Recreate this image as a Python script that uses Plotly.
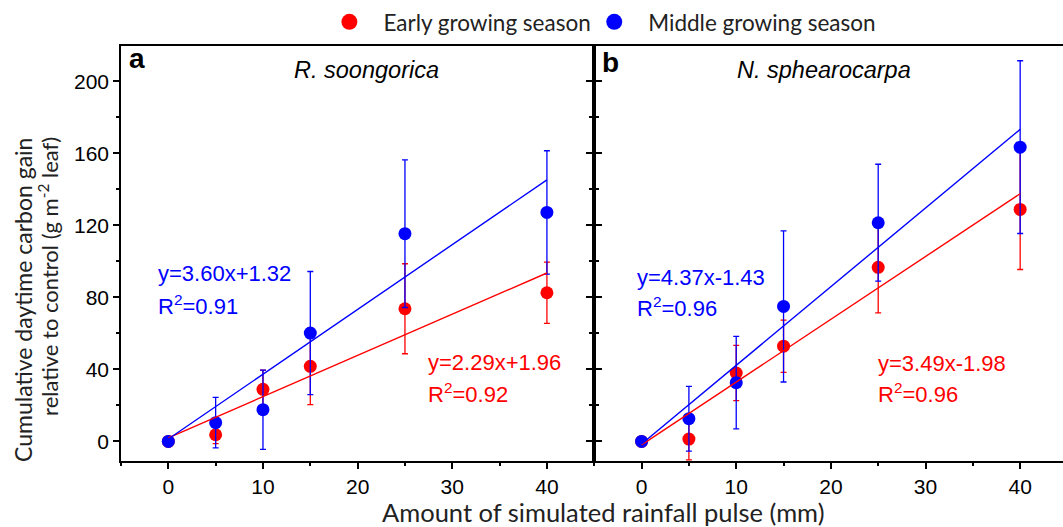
import plotly.graph_objects as go
import numpy as np

# ---------------- data ----------------
rain = [0, 5, 10, 15, 25, 40]

a_early = [0, 3.7, 28.9, 41.7, 73.7, 82.6]
a_early_err = [0, 5, 10.7, 21.3, 25, 17]
a_mid = [0, 10.4, 17.6, 60.2, 115.4, 127.2]
a_mid_err = [0, 14, 22, 34.2, 41, 34.3]

b_early = [0, 1.3, 38, 52.9, 96.7, 128.9]
b_early_err = [0, 11.6, 15.3, 14.5, 25.3, 33.4]
b_mid = [0, 12.6, 32.6, 75, 121.5, 163.5]
b_mid_err = [0, 18, 25.7, 42, 32.5, 48]

# regression (slope, intercept, R2)
fit_a_early = (2.29, 1.96, 0.92)
fit_a_mid = (3.60, 1.32, 0.91)
fit_b_early = (3.49, -1.98, 0.96)
fit_b_mid = (4.37, -1.43, 0.96)

series_names = ["Early growing season", "Middle growing season"]
species = ["R. soongorica", "N. sphearocarpa"]

RED = "#ff0000"
BLUE = "#0000ff"

# ---------------- layout geometry ----------------
W, H = 1063, 527
L, R, T, B = 120.5, 0, 45.5, 66.3
PW, PH = W - L - R, H - T - B
split = 473.5 / PW


def px(x):
    return (x - L) / PW


def py(y):
    return 1 - (y - T) / PH


fig = go.Figure()


def add_panel(xa, ya, early, early_err, mid, mid_err, fe, fm):
    xs = np.array([min(rain), max(rain)], dtype=float)
    for vals, err, col in [(early, early_err, RED), (mid, mid_err, BLUE)]:
        fig.add_trace(go.Scatter(
            x=rain, y=vals, mode="markers", xaxis=xa, yaxis=ya,
            marker=dict(color=col, size=13, line=dict(width=0)),
            error_y=dict(type="data", array=err, visible=True, color=col,
                         thickness=1.3, width=3),
            showlegend=False, hoverinfo="skip"))
    for f, col in [(fe, RED), (fm, BLUE)]:
        fig.add_trace(go.Scatter(
            x=xs, y=f[0] * xs + f[1], mode="lines", xaxis=xa, yaxis=ya,
            line=dict(color=col, width=1.4), showlegend=False,
            hoverinfo="skip"))


add_panel("x", "y", a_early, a_early_err, a_mid, a_mid_err, fit_a_early, fit_a_mid)
add_panel("x2", "y2", b_early, b_early_err, b_mid, b_mid_err, fit_b_early, fit_b_mid)

# legend-only entries (one legend box each)
for name, col, lg in zip(series_names, [RED, BLUE], ["legend", "legend2"]):
    fig.add_trace(go.Scatter(x=[None], y=[None], mode="markers", name=name,
                             legend=lg, marker=dict(color=col, size=16)))

tickfont = dict(family="Liberation Sans, Arial", size=21, color="black")
axis_common = dict(showline=True, linecolor="black", linewidth=1.5,
                   showgrid=False, zeroline=False, ticks="outside",
                   tickcolor="black", tickwidth=1.5, tickfont=tickfont)
minor_x = dict(dtick=5, ticklen=3, ticks="outside", tickcolor="black", tickwidth=1.5)
minor_y = dict(dtick=20, ticklen=3, ticks="outside", tickcolor="black", tickwidth=1.5)

legend_common = dict(orientation="h", xanchor="left", yanchor="middle",
                     y=py(21.7), itemwidth=58,
                     font=dict(family="Lato", size=22.5, color="#222"),
                     bgcolor="rgba(0,0,0,0)")

fig.update_layout(
    width=W, height=H,
    margin=dict(l=L, r=R, t=T, b=B),
    plot_bgcolor="white", paper_bgcolor="white",
    showlegend=True,
    legend=dict(x=px(349 - 34), **legend_common),
    legend2=dict(x=px(614 - 34), **legend_common),
    xaxis=dict(domain=[0, split], range=[-5, 45], dtick=10, tick0=0,
               ticklen=6, mirror=True, minor=minor_x, **axis_common),
    xaxis2=dict(domain=[split, 1], range=[-5, -5 + (PW - 473.5) / 9.47],
                dtick=10, tick0=0, ticklen=6, mirror=True, anchor="y2",
                minor=minor_x, **axis_common),
    yaxis=dict(range=[-10.9, 219.7], dtick=40, tick0=0, ticklen=6,
               mirror="ticks", minor=minor_y, **axis_common),
    yaxis2=dict(range=[-10.9, 219.7], dtick=40, tick0=0, ticklen=6,
                anchor="x2", showticklabels=False, minor=minor_y,
                **axis_common),
)

ann = []
eqfont = 22
ARIAL = "Liberation Sans, Arial"


def eq_text(f):
    sign = "+" if f[1] >= 0 else "-"
    return "y=%.2fx%s%.2f" % (f[0], sign, abs(f[1]))


def add_eq(f, col, xpx, ypx1, ypx2):
    ann.append(dict(text=eq_text(f), x=px(xpx), y=py(ypx1), xref="paper",
                    yref="paper", xanchor="left", yanchor="middle",
                    showarrow=False, font=dict(family=ARIAL, size=eqfont, color=col)))
    ann.append(dict(text="R<sup>2</sup>=%.2f" % f[2], x=px(xpx), y=py(ypx2),
                    xref="paper", yref="paper", xanchor="left",
                    yanchor="middle", showarrow=False,
                    font=dict(family=ARIAL, size=eqfont, color=col)))


add_eq(fit_a_mid, BLUE, 156, 273, 305)
add_eq(fit_a_early, RED, 426, 362, 393)
add_eq(fit_b_mid, BLUE, 635, 277, 307)
add_eq(fit_b_early, RED, 876, 363, 393)

# panel letters and species names
for letter, xp, yp in [("a", 137, 58), ("b", 610, 62)]:
    ann.append(dict(text="<b>%s</b>" % letter, x=px(xp), y=py(yp), xref="paper",
                    yref="paper", xanchor="center", yanchor="middle",
                    showarrow=False, font=dict(family=ARIAL, size=28, color="black")))
for sp, xp in zip(species, [366, 824]):
    ann.append(dict(text="<i>%s</i>" % sp, x=px(xp), y=py(70), xref="paper",
                    yref="paper", xanchor="center", yanchor="middle",
                    showarrow=False, font=dict(family=ARIAL, size=23.5, color="black")))

# axis titles
ann.append(dict(text="Amount of simulated rainfall pulse (mm)", x=px(602.5),
                y=py(512), xref="paper", yref="paper", xanchor="center",
                yanchor="middle", showarrow=False,
                font=dict(family="Lato", size=25.5, color="#222")))
ann.append(dict(text="Cumulative daytime carbon gain", x=px(23), y=py(300),
                xref="paper", yref="paper", xanchor="center", yanchor="middle",
                textangle=-90, showarrow=False,
                font=dict(family="Lato", size=23, color="#222")))
ann.append(dict(text="relative to control (g m<sup>-2</sup> leaf)", x=px(48),
                y=py(276), xref="paper", yref="paper", xanchor="center",
                yanchor="middle", textangle=-90, showarrow=False,
                font=dict(family="Lato", size=22, color="#222")))

fig.update_layout(annotations=ann)
fig.write_html("out.html")
